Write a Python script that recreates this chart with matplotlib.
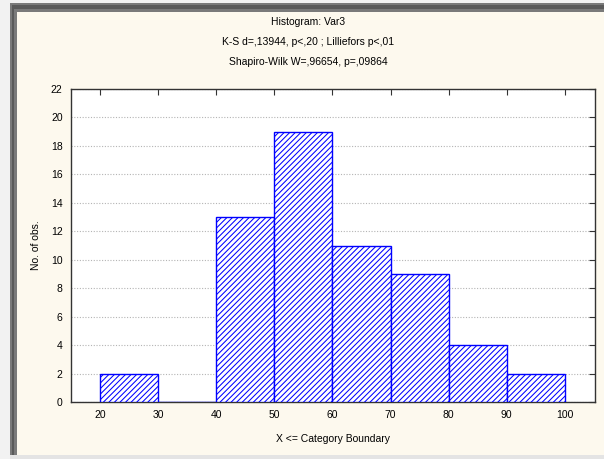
import matplotlib.pyplot as plt
from matplotlib.patches import Rectangle

# histogram counts per 10-unit class (upper boundary inclusive)
bin_edges = [20, 30, 40, 50, 60, 70, 80, 90, 100]
counts = [2, 0, 13, 19, 11, 9, 4, 2]
y_ticks = [0, 2, 4, 6, 8, 10, 12, 14, 16, 18, 20, 22]
x_ticks = [20, 30, 40, 50, 60, 70, 80, 90, 100]

title_lines = [
    "Histogram: Var3",
    "K-S d=,13944, p<,20 ; Lilliefors p<,01",
    "Shapiro-Wilk W=,96654, p=,09864",
]

W, H = 604, 459
cream = "#fdf9ee"

plt.rcParams["font.family"] = ["Liberation Sans", "DejaVu Sans"]
plt.rcParams["hatch.color"] = "#4444ff"
plt.rcParams["hatch.linewidth"] = 0.75
fig = plt.figure(figsize=(W / 100, H / 100), dpi=100, facecolor="#f2f2f2")


def px_rect(x0, y0, x1, y1, color):
    # pixel box measured from the top-left corner
    fig.patches.append(Rectangle((x0 / W, 1 - y1 / H), (x1 - x0) / W, (y1 - y0) / H,
                                 transform=fig.transFigure, facecolor=color,
                                 edgecolor="none", zorder=-5))


# window frame around the graph area
px_rect(10, 3, W, 12, "#7a7a7a")
px_rect(10, 3, 17, 455, "#7a7a7a")
px_rect(12, 5, W, 9, "#5a5a5a")
px_rect(12, 5, 14, 455, "#5a5a5a")
px_rect(17, 12, W, 455, cream)
px_rect(10, 455, W, H, "#e4e4e4")

left, right, top, bottom = 71, 595, 89, 402
ax = fig.add_axes([left / W, 1 - bottom / H, (right - left) / W, (bottom - top) / H])
ax.set_facecolor("white")

widths = [b - a for a, b in zip(bin_edges[:-1], bin_edges[1:])]
ax.bar(bin_edges[:-1], counts, width=widths, align="edge", color="white",
       edgecolor="#0000ff", linewidth=1.0, hatch="//////", zorder=3)

ax.set_xlim(15, 105.2)
ax.set_ylim(0, 22)
ax.set_xticks(x_ticks)
ax.set_yticks(y_ticks)
ax.grid(axis="y", linestyle=(0, (1, 1.5)), color="#b4b4b4", linewidth=0.8, zorder=1)

ax.tick_params(axis="both", which="both", direction="in", labelsize=7.5,
               top=True, right=True, bottom=False, left=False, length=4,
               color="#333333", pad=6)
for s in ax.spines.values():
    s.set_color("#333333")
    s.set_linewidth(1.0)

ax.set_ylabel("No. of obs.", fontsize=7.5, labelpad=7)
ax.set_xlabel("X <= Category Boundary", fontsize=7.5, labelpad=10)

cx = 308 / W
for text, y in zip(title_lines, [22, 42, 62]):
    fig.text(cx, 1 - y / H, text, ha="center", va="center", fontsize=7.5)

fig.savefig("out.png", dpi=100, facecolor=fig.get_facecolor())
